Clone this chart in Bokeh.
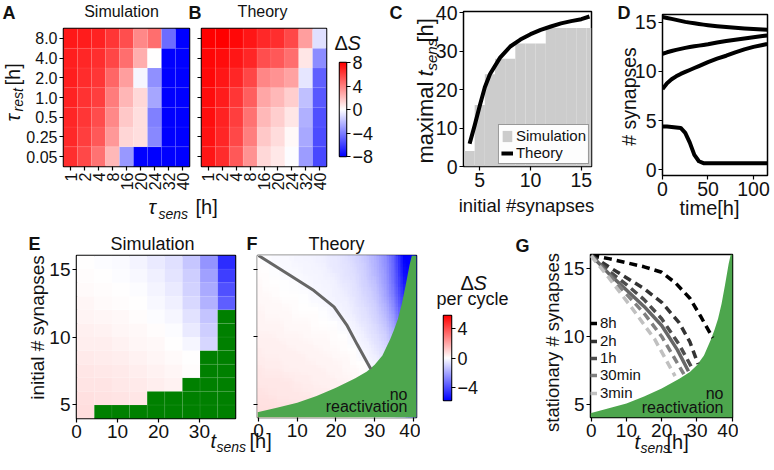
import numpy as np
from math import pi
from bokeh.plotting import figure
from bokeh.layouts import row, column
from bokeh.core.properties import value
from bokeh.models import (ColumnDataSource, FixedTicker, LinearColorMapper,
                          Legend, LegendItem)
from bokeh.transform import linear_cmap
from bokeh.embed import file_html
from bokeh.resources import INLINE

FONT = "Liberation Sans"
INK = "#111111"

# ======================= DATA =======================
# Panels A/B : Delta S heatmaps
tau_sens = ["1", "2", "4", "8", "16", "20", "24", "32", "40"]
tau_rest = ["0.05", "0.25", "0.5", "1.0", "2.0", "4.0", "8.0"]   # bottom -> top
dS_sim = [
    [6.5, 5.7, 4.4, 2.2, -3.2, -8.0, -8.0, -8.0, -8.0],
    [6.7, 6.0, 5.2, 3.2, 1.3, 1.0, -3.7, -8.0, -8.0],
    [6.8, 6.3, 5.6, 3.7, 1.7, 1.0, -4.0, -8.0, -8.0],
    [6.9, 6.4, 6.0, 4.1, 2.3, 1.2, -2.8, -8.0, -8.0],
    [7.0, 6.6, 6.3, 4.8, 3.0, -0.3, -3.5, -8.0, -8.0],
    [7.0, 6.8, 6.5, 5.8, 4.5, 2.5, 0.0, -8.0, -8.0],
    [7.2, 7.1, 6.9, 6.3, 5.5, 3.7, 4.5, -4.6, -8.0],
]
dS_theory = [
    [7.3, 6.6, 5.2, 3.4, 1.2, 0.7, -0.1, -3.1, -5.7],
    [7.4, 6.8, 5.7, 4.0, 1.7, 1.1, 0.2, -2.7, -5.6],
    [7.5, 6.9, 6.0, 4.4, 2.2, 1.5, 0.8, -2.5, -5.5],
    [7.6, 7.1, 6.3, 5.0, 2.8, 2.2, 1.5, -2.0, -5.2],
    [7.7, 7.3, 6.8, 5.8, 3.8, 3.4, 2.9, -0.8, -5.0],
    [7.8, 7.6, 7.3, 6.8, 5.5, 5.2, 4.5, 0.8, -3.6],
    [8.0, 8.0, 7.7, 7.3, 6.7, 6.5, 5.7, 3.0, -1.0],
]

# Panel C : maximal t_sens vs initial #synapses
c_n_sim = [4, 5, 6, 7, 8, 9, 10, 11, 12, 13, 14, 15, 16]
c_tmax_sim = [4, 16, 24, 28, 28, 32, 32, 32, 36, 36, 36, 36, 36]
c_n_theory = [4.0, 4.5, 5.0, 5.5, 6.0, 7.0, 8.0, 9.0, 10.0, 11.0, 12.0, 13.0, 14.0, 15.0, 15.8]
c_tmax_theory = [5.9, 10.7, 15.8, 20.6, 24.0, 28.3, 31.2, 33.0, 34.4, 35.5, 36.4, 37.2, 37.8, 38.3, 39.0]

# Panel D : # synapses over time
d_time = [0, 5, 10, 15, 20, 25, 30, 35, 40, 45, 50, 60, 70, 80, 90, 100, 110, 115]
d_syn_a = [15.55, 15.45, 15.35, 15.25, 15.15, 15.05, 14.97, 14.9, 14.83, 14.77, 14.71,
           14.61, 14.52, 14.45, 14.38, 14.32, 14.27, 14.25]
d_syn_b = [11.8, 11.95, 12.08, 12.2, 12.3, 12.4, 12.48, 12.56, 12.63, 12.7, 12.77,
           12.95, 13.1, 13.23, 13.36, 13.48, 13.6, 13.67]
d_syn_c = [8.2, 8.8, 9.2, 9.5, 9.75, 9.95, 10.15, 10.35, 10.55, 10.75, 10.95,
           11.3, 11.6, 11.95, 12.25, 12.5, 12.7, 12.8]
d_syn_d = [4.4, 4.38, 4.35, 4.3, 4.25, 3.75, 2.75, 1.5, 0.85, 0.66, 0.65,
           0.65, 0.64, 0.65, 0.64, 0.65, 0.64, 0.65]

# Panel E : simulated Delta S per cycle (None = no reactivation)
e_tsens = [2.2, 6.5, 10.8, 15.1, 19.4, 23.7, 28.0, 32.3, 36.6]
e_n = [4, 5, 6, 7, 8, 9, 10, 11, 12, 13, 14, 15]
e_dS = [
    [0.75, None, None, None, None, None, None, None, None],
    [0.7, 0.65, 0.6, 0.55, None, None, None, None, None],
    [0.62, 0.58, 0.52, 0.45, 0.38, 0.3, None, None, None],
    [0.55, 0.5, 0.45, 0.38, 0.3, 0.2, 0.05, None, None],
    [0.48, 0.43, 0.38, 0.3, 0.22, 0.12, 0.0, None, None],
    [0.4, 0.36, 0.3, 0.22, 0.14, 0.03, -0.2, -0.9, None],
    [0.33, 0.28, 0.22, 0.15, 0.06, -0.08, -0.45, -1.1, None],
    [0.25, 0.2, 0.15, 0.08, -0.05, -0.2, -0.65, -1.3, None],
    [0.18, 0.13, 0.08, 0.0, -0.15, -0.35, -0.85, -1.7, -3.6],
    [0.12, 0.07, 0.0, -0.08, -0.25, -0.45, -1.0, -1.9, -3.9],
    [0.05, 0.0, -0.07, -0.15, -0.35, -0.6, -1.1, -2.1, -4.3],
    [0.0, -0.05, -0.12, -0.25, -0.45, -0.7, -1.25, -2.4, -4.7],
]

# Panel F : theory Delta S per cycle on a (t_sens, n) grid
f_t = [0, 2.5, 5, 7.5, 10, 12.5, 15, 17.5, 20, 22.5, 25, 27.5, 30, 32.5, 35, 37.5, 40]
f_n = [4, 5, 6, 7, 8, 9, 10, 11, 12, 13, 14, 15, 16]
f_dS = [
    [0.75, 0.72, 0.69, 0.66, 0.63, 0.6, 0.56, 0.52, 0.47, 0.41, 0.34, 0.25, 0.1, -0.1, -0.4, -1.0, -2.5],
    [0.66, 0.64, 0.61, 0.58, 0.55, 0.52, 0.48, 0.44, 0.4, 0.34, 0.27, 0.18, 0.05, -0.2, -0.6, -1.4, -3.0],
    [0.58, 0.56, 0.53, 0.5, 0.47, 0.44, 0.4, 0.36, 0.32, 0.27, 0.2, 0.12, 0.0, -0.3, -0.8, -1.8, -3.5],
    [0.5, 0.48, 0.45, 0.42, 0.39, 0.36, 0.33, 0.29, 0.25, 0.2, 0.14, 0.06, -0.1, -0.4, -1.0, -2.2, -4.0],
    [0.42, 0.4, 0.38, 0.35, 0.32, 0.29, 0.26, 0.23, 0.19, 0.14, 0.08, 0.0, -0.25, -0.6, -1.2, -2.6, -4.5],
    [0.36, 0.34, 0.32, 0.29, 0.26, 0.23, 0.2, 0.17, 0.13, 0.08, 0.02, -0.2, -0.45, -0.8, -1.5, -3.0, -5.0],
    [0.3, 0.28, 0.25, 0.22, 0.19, 0.16, 0.13, 0.1, 0.05, 0.0, -0.15, -0.38, -0.65, -1.0, -1.8, -3.4, -5.3],
    [0.25, 0.22, 0.19, 0.16, 0.12, 0.09, 0.06, 0.03, -0.03, -0.15, -0.32, -0.55, -0.85, -1.3, -2.2, -3.8, -5.5],
    [0.2, 0.17, 0.14, 0.1, 0.06, 0.03, 0.0, -0.08, -0.18, -0.3, -0.48, -0.7, -1.0, -1.6, -2.6, -4.2, -5.7],
    [0.15, 0.12, 0.08, 0.04, 0.0, -0.04, -0.1, -0.18, -0.28, -0.4, -0.6, -0.85, -1.2, -1.9, -3.0, -4.6, -5.7],
    [0.1, 0.06, 0.02, -0.03, -0.08, -0.12, -0.18, -0.25, -0.35, -0.5, -0.7, -1.0, -1.4, -2.1, -3.3, -5.0, -5.7],
    [0.05, 0.0, -0.05, -0.1, -0.15, -0.2, -0.25, -0.35, -0.45, -0.6, -0.8, -1.1, -1.6, -2.3, -3.5, -5.3, -5.7],
    [0.0, -0.05, -0.1, -0.15, -0.2, -0.25, -0.3, -0.4, -0.5, -0.7, -0.9, -1.2, -1.7, -2.4, -3.6, -5.5, -5.7],
]
# zero line (theory) in F
f0_t = [0.0, 8.3, 14.3, 19.5, 22.9, 25.5, 28.1, 29.0]
f0_n = [16.0, 14.5, 13.4, 12.2, 10.8, 9.4, 8.05, 7.6]
# no-reactivation boundary (F and G)
nr_t = [0, 5, 10, 15, 20, 25, 28, 30, 32, 34, 35, 36, 37, 38, 39, 39.6]
nr_n = [4.4, 4.75, 5.1, 5.6, 6.2, 6.9, 7.4, 7.9, 8.6, 9.8, 10.5, 11.3, 12.4, 13.8, 15.3, 16.0]

# Panel G : stationary # synapses for several tau_rest
g_lines = [
    # label, t, n, colour, dashed
    ("8h", [0, 5, 10, 15, 20, 24, 28, 31, 34.5],
     [15.95, 15.7, 15.4, 15.1, 14.7, 13.9, 12.8, 11.5, 9.9], "#000000", True),
    ("2h", [0, 5, 10, 15, 20, 25, 28, 30.3],
     [15.95, 15.1, 14.3, 13.5, 12.5, 11.0, 9.6, 8.0], "#333333", True),
    ("1h", [0, 5, 10, 15, 20, 25, 28.8],
     [15.95, 14.8, 13.8, 12.7, 11.3, 9.4, 7.6], "#4d4d4d", True),
    (None, [0, 5, 10, 15, 20, 24.5, 27.6],
     [15.95, 14.6, 13.4, 12.2, 10.8, 9.0, 7.45], "#666666", False),
    ("30min", [0, 5, 10, 15, 20, 26.3],
     [15.9, 14.5, 13.1, 11.7, 10.0, 7.25], "#808080", True),
    ("3min", [0, 5, 11.5, 18, 23.8],
     [15.9, 14.3, 12.1, 9.8, 7.1], "#c0c0c0", True),
]

# ======================= HELPERS =======================
def bwr_palette(n=256):
    pal = []
    for i in range(n):
        f = i / (n - 1)
        if f < 0.5:
            g = f / 0.5
            r, gg, b = g, g, 1.0
        else:
            g = (f - 0.5) / 0.5
            r, gg, b = 1.0, 1.0 - g, 1.0 - g
        pal.append("#%02x%02x%02x" % (round(r * 255), round(gg * 255), round(b * 255)))
    return pal

BWR = bwr_palette()


def mk(w, h, bl, br, bt, bb, xr, yr, **kw):
    p = figure(width=w, height=h, x_range=xr, y_range=yr, output_backend="svg",
               toolbar_location=None, min_border_left=bl, min_border_right=br,
               min_border_top=bt, min_border_bottom=bb, **kw)
    if "frame_align" in p.properties():
        p.frame_align = False
    p.border_fill_color = None
    p.background_fill_color = "white"
    p.outline_line_color = "black"
    p.outline_line_width = 1.5
    p.grid.visible = False
    return p


def axes(p, xticks=None, yticks=None, fs="16px", xover=None, yover=None,
         hide_y=False, xorient="horizontal"):
    for ax, ticks, over in ((p.xaxis, xticks, xover), (p.yaxis, yticks, yover)):
        if ticks is not None:
            ax.ticker = FixedTicker(ticks=ticks, minor_ticks=[])
        if over:
            ax.major_label_overrides = over
        ax.major_tick_in = 0
        ax.major_tick_out = 4
        ax.minor_tick_in = 0
        ax.minor_tick_out = 0
        ax.major_tick_line_color = "black"
        ax.major_tick_line_width = 1.2
        ax.axis_line_color = None
        ax.major_label_text_font = FONT
        ax.major_label_text_font_size = fs
        ax.major_label_text_color = INK
        ax.major_label_standoff = 2
    if hide_y and yticks is not None:
        p.yaxis.major_label_overrides = {t: "" for t in yticks}
    p.xaxis.major_label_orientation = xorient


def heat_source(matrix):
    xs, ys, vs = [], [], []
    for j, rowv in enumerate(matrix):
        for i, v in enumerate(rowv):
            xs.append(i)
            ys.append(j)
            vs.append(v)
    return ColumnDataSource(dict(x=xs, y=ys, v=vs))

# ======================= TOP ROW =======================
TOP_H = 222
NX, NY = len(tau_sens), len(tau_rest)
xr_h = (-0.5, NX - 0.5)
yr_h = (-0.5, NY - 0.5)
xover = {i: s for i, s in enumerate(tau_sens)}
yover = {j: s for j, s in enumerate(tau_rest)}

# --- A ---
pA = mk(196, TOP_H, 63, 7, 28, 56, xr_h, yr_h)
pA.rect(x="x", y="y", width=1, height=1, source=heat_source(dS_sim),
        fill_color=linear_cmap("v", BWR, -8, 8), line_color="white", line_alpha=0.12, line_width=0.5)
axes(pA, list(range(NX)), list(range(NY)), fs="16px", xover=xover, yover=yover, xorient=pi / 2)

# --- B ---
pB = mk(134, TOP_H, 5, 4, 28, 56, xr_h, yr_h)
pB.rect(x="x", y="y", width=1, height=1, source=heat_source(dS_theory),
        fill_color=linear_cmap("v", BWR, -8, 8), line_color="white", line_alpha=0.12, line_width=0.5)
axes(pB, list(range(NX)), list(range(NY)), fs="16px", xover=xover, hide_y=True, xorient=pi / 2)

# --- colourbar for A/B ---
pCB = mk(46, TOP_H, 9, 30, 62, 66, (0, 1), (-8, 8),
         x_axis_location=None, y_axis_location="right")
cmap8 = LinearColorMapper(palette=BWR, low=-8, high=8)
pCB.image(image=[np.linspace(-8, 8, 256).reshape(256, 1)], x=0, y=-8, dw=1, dh=16, color_mapper=cmap8)
axes(pCB, None, [-8, -4, 0, 4, 8], fs="18px", yover={-8: "−8", -4: "−4"})

# --- C ---
pC = mk(221, TOP_H, 87, 6, 11, 56, (3.4, 16.0), (0, 40.3))
bars = pC.vbar(x=c_n_sim, top=c_tmax_sim, width=1, bottom=0, fill_color="#cccccc", line_color=None)
theo = pC.line(c_n_theory, c_tmax_theory, line_color="black", line_width=4, line_join="round")
axes(pC, [5, 10, 15], [0, 10, 20, 30, 40], fs="19.5px")
legC = Legend(items=[LegendItem(label="Simulation", renderers=[bars]),
                     LegendItem(label="Theory", renderers=[theo])],
              location="bottom_right", margin=2, padding=2, spacing=0,
              glyph_width=12, glyph_height=14, label_height=14, label_standoff=3,
              label_text_font=FONT, label_text_font_size="15px", label_text_color=INK,
              border_line_color="#333333", border_line_width=1.2,
              background_fill_color="white", background_fill_alpha=0.95)
pC.add_layout(legC)

# --- D ---
pD = mk(174, TOP_H, 65, 4, 14, 47, (0, 115.4), (-0.6, 15.8))
for ys in (d_syn_a, d_syn_b, d_syn_c, d_syn_d):
    pD.line(d_time, ys, line_color="black", line_width=4, line_join="round")
axes(pD, [0, 50, 100], [0, 5, 10, 15], fs="19.5px")

# ======================= BOTTOM ROW =======================
BOT_H = 246
E_CELL = 4.31
cm57 = LinearColorMapper(palette=BWR, low=-5.7, high=5.7)

# --- E ---
pE = mk(240, BOT_H, 76, 5, 33, 50, (0, 38.8), (4, 16))
el, er, eb, et, ev = [], [], [], [], []
for j, n in enumerate(e_n):
    for i, t in enumerate(e_tsens):
        v = e_dS[j][i]
        el.append(t - E_CELL / 2)
        er.append(t + E_CELL / 2)
        eb.append(n)
        et.append(n + 1)
        ev.append(np.nan if v is None else v)
pE.quad(left="l", right="r", bottom="b", top="t",
        source=ColumnDataSource(dict(l=el, r=er, b=eb, t=et, v=ev)),
        fill_color=linear_cmap("v", BWR, -5.7, 5.7, nan_color="#008000"),
        line_color="white", line_alpha=0.12, line_width=0.5)
axes(pE, [0, 10, 20, 30], [5, 10, 15], fs="19px")

# --- F ---
F_XR = (-0.26, 40.8)
F_YR = (4, 16)
pF = mk(180, BOT_H, 17, 4, 33, 51, F_XR, F_YR)
dt = f_t[1] - f_t[0]
dn = f_n[1] - f_n[0]
f_img = np.array(f_dS, dtype=float)
# the same field drawn at sub-cell offsets and averaged (alpha 1/k) for a smooth look
SHIFTS = [-0.375, -0.125, 0.125, 0.375]
k = 0
for sx in SHIFTS:
    for sy in SHIFTS:
        k += 1
        pF.image(image=[f_img], x=f_t[0] - dt / 2 + sx * dt, y=f_n[0] - dn / 2 + sy * dn,
                 dw=len(f_t) * dt, dh=len(f_n) * dn, color_mapper=cm57, global_alpha=1.0 / k)
pF.patch([F_XR[0]] + nr_t + [F_XR[1], F_XR[1], F_XR[0]],
         [nr_n[0]] + nr_n + [F_YR[1], F_YR[0], F_YR[0]],
         fill_color="#4da64d", line_color=None)
pF.line(f0_t, f0_n, line_color="#666666", line_width=3)
axes(pF, [0, 10, 20, 30, 40], [5, 10, 15], fs="19px", hide_y=True)

# --- colourbar for E/F ---
pFCB = mk(61, BOT_H, 23, 30, 93, 68, (0, 1), (-5.7, 5.7),
          x_axis_location=None, y_axis_location="right")
pFCB.image(image=[np.linspace(-5.7, 5.7, 256).reshape(256, 1)], x=0, y=-5.7, dw=1, dh=11.4,
           color_mapper=cm57)
axes(pFCB, None, [-4, 0, 4], fs="18px", yover={-4: "−4"})

# --- G ---
G_XR = (-0.2, 40.1)
G_YR = (4.07, 16)
pG = mk(257, BOT_H, 109, 6, 32, 51, G_XR, G_YR)
pG.patch([G_XR[0]] + nr_t + [G_XR[1], G_XR[1], G_XR[0]],
         [nr_n[0]] + nr_n + [G_YR[1], G_YR[0], G_YR[0]],
         fill_color="#4da64d", line_color=None)
g_entries = []
for lab, ts, ns, col, dashed in g_lines:
    r = pG.line(ts, ns, line_color=col, line_width=3.5,
                line_dash="8 5" if dashed else "solid")
    if lab:
        g_entries.append((lab, r))
# one single-entry legend per item so that the rows sit as tightly as in the original
G_LEG_BOTTOMS = [86, 68, 51, 34, 16]    # px above the frame bottom
for (lab, r), vy in zip(g_entries, G_LEG_BOTTOMS):
    pG.add_layout(Legend(items=[LegendItem(label=lab, renderers=[r])], location=(0, vy),
                         margin=0, padding=0, spacing=0, glyph_width=7, glyph_height=14,
                         label_height=14, label_standoff=3, label_text_font=FONT,
                         label_text_font_size="15px", label_text_color=INK,
                         border_line_color=None, background_fill_alpha=0))
axes(pG, [0, 10, 20, 30, 40], [5, 10, 15], fs="19px")

# ======================= TEXT OVERLAY (page pixel coordinates) =======================
W_ALL, H_ALL = 772, TOP_H + BOT_H
pO = figure(width=W_ALL, height=H_ALL, x_range=(0, W_ALL), y_range=(H_ALL, 0),
            output_backend="svg", toolbar_location=None, min_border=0,
            x_axis_location=None, y_axis_location=None)
if "frame_align" in pO.properties():
    pO.frame_align = False
pO.border_fill_color = "white"
pO.border_fill_alpha = 0
pO.background_fill_color = "white"
pO.background_fill_alpha = 0
pO.outline_line_color = None
pO.grid.visible = False
pO.margin = (-H_ALL, 0, 0, 0)


def T(text, x, y, size, align="left", angle=0.0, style="normal"):
    # x, y: page position of the text's vertical centre (integer positions keep it crisp)
    base = "alphabetic" if angle == 0.0 else "middle"
    pO.text(x=[x], y=[round(y)], text=[text], text_font=value(FONT), text_font_size=f"{size}px",
            text_font_style=style, text_color=INK, text_align=align,
            text_baseline=base, angle=angle)

V = pi / 2
# A / B
T("A", 2, 12, 18, style="bold")
T("Simulation", 121, 11, 16, align="center")
T("τ", 12, 121, 20, angle=V, style="italic")
T("rest", 17, 111, 14, angle=V, style="italic")
T("[h]", 12, 85, 20, angle=V)
T("B", 188, 12, 18, style="bold")
T("Theory", 262, 11, 16, align="center")
T("τ", 148, 206, 20, style="italic")
T("sens", 158, 213, 14, style="italic")
T("[h]", 195, 206, 20)
T("Δ", 334, 42, 20)
T("S", 347, 42, 20, style="italic")
# C
T("C", 389, 12, 18, style="bold")
T("maximal ", 425, 163, 22, angle=V)
T("t", 425, 76, 22, angle=V, style="italic")
T("sens", 431, 70, 15, angle=V, style="italic")
T("[h]", 425, 42, 22, angle=V)
T("initial #synapses", 526, 205, 18.5, align="center")
# D
T("D", 617, 12, 18, style="bold")
T("# synapses", 628, 96, 19.5, align="center", angle=V)
T("time[h]", 709, 207, 20, align="center")
# E / F
T("E", 28, 243, 18, style="bold")
T("Simulation", 152, 243, 18, align="center")
T("initial # synapses", 37, 327, 19, align="center", angle=V)
T("F", 246, 243, 18, style="bold")
T("Theory", 336, 243, 18, align="center")
T("no", 407, 394, 16, align="right")
T("reactivation", 407, 406, 16, align="right")
T("t", 210, 440, 20, style="italic")
T("sens", 216, 446, 14, style="italic")
T("[h]", 249, 440, 20)
T("Δ", 460, 282, 20)
T("S", 473, 282, 20, style="italic")
T("per cycle", 472, 298, 18, align="center")
# G
T("G", 515, 245, 18, style="bold")
T("stationary # synapses", 552, 342, 18.5, align="center", angle=V)
T("no", 723, 393, 16, align="right")
T("reactivation", 723, 407, 16, align="right")
T("t", 634, 441, 20, style="italic")
T("sens", 640, 447, 14, style="italic")
T("[h]", 666, 441, 20)

layout = column(row(pA, pB, pCB, pC, pD), row(pE, pF, pFCB, pG), pO)
open("out.html", "w").write(file_html(layout, INLINE))
